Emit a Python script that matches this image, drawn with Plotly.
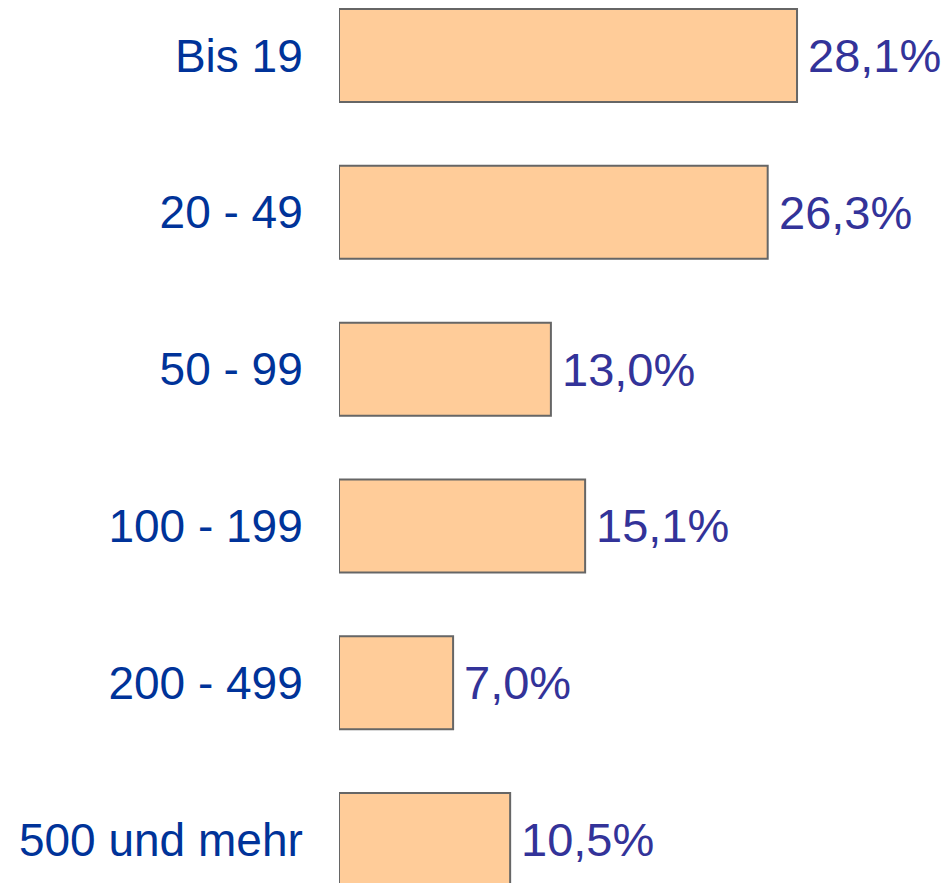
import plotly.graph_objects as go

categories = ["Bis 19", "20 - 49", "50 - 99", "100 - 199", "200 - 499", "500 und mehr"]
values = [28.1, 26.3, 13.0, 15.1, 7.0, 10.5]
value_labels = ["28,1%", "26,3%", "13,0%", "15,1%", "7,0%", "10,5%"]

fig = go.Figure()
fig.add_trace(go.Bar(
    x=values,
    y=categories,
    orientation="h",
    width=0.593,
    marker=dict(color="#FFCC99", line=dict(color="#666666", width=2)),
    hoverinfo="skip",
))

for v, c, t in zip(values, categories, value_labels):
    fig.add_annotation(
        x=v, y=c, xref="x", yref="y", text=t, showarrow=False,
        xanchor="left", yanchor="middle", xshift=9, yshift=0,
        font=dict(family="Liberation Sans, Arial, sans-serif", size=47, color="#333399"),
    )

fig.update_layout(
    width=949, height=883,
    margin=dict(l=339, r=0, t=0, b=0, autoexpand=False),
    plot_bgcolor="white", paper_bgcolor="white",
    showlegend=False,
    xaxis=dict(range=[0, 610 / 16.3], visible=False, fixedrange=True, automargin=False),
    yaxis=dict(
        type="category",
        categoryorder="array", categoryarray=categories,
        range=[5.277, -0.354],
        automargin=False, fixedrange=True,
        showgrid=False, zeroline=False, showline=False,
        ticks="outside", ticklen=26, tickcolor="rgba(0,0,0,0)",
        tickfont=dict(family="Liberation Sans, Arial, sans-serif", size=46, color="#003399"),
    ),
)

fig.write_html(
    "out.html",
    config={"displayModeBar": False, "staticPlot": True},
    post_script="document.body.style.margin='0';document.body.style.overflow='hidden';",
)
